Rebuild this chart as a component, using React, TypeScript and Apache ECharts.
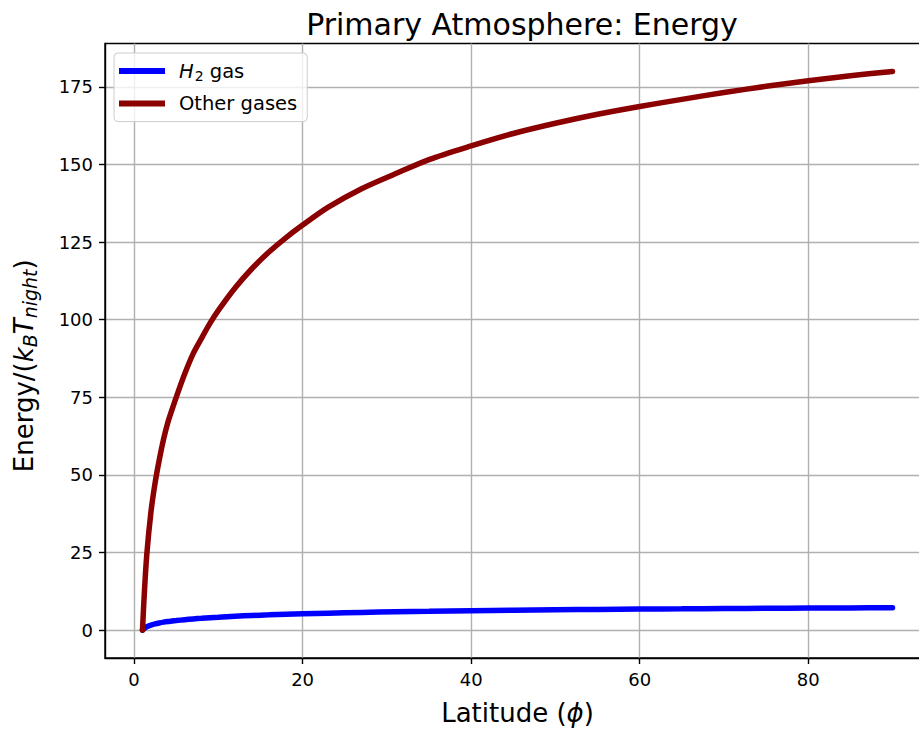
import React, { useEffect, useRef } from "react";
import * as echarts from "echarts";

const latitude = [1, 1.2, 1.5, 2, 2.5, 3, 3.5, 4, 4.5, 5, 6, 7, 8, 9, 10, 12, 14, 16, 18, 20, 23, 27, 31, 35, 40, 45, 50, 55, 60, 65, 70, 75, 80, 85, 90];
const otherGases = [0, 11, 24, 38, 47.5, 55, 61.5, 66.8, 71, 75, 82.5, 89, 94, 98.8, 103, 110.3, 116.5, 121.8, 126.4, 130.5, 136.2, 142.2, 147, 151.6, 156, 160, 163.3, 166.2, 168.7, 171, 173.2, 175.2, 177, 178.6, 180];
const h2Gas = [0, 0.5, 1.05, 1.6, 2.0, 2.3, 2.55, 2.75, 2.9, 3.05, 3.35, 3.6, 3.8, 4.0, 4.15, 4.45, 4.7, 4.9, 5.1, 5.25, 5.45, 5.7, 5.9, 6.05, 6.25, 6.4, 6.55, 6.65, 6.75, 6.85, 6.95, 7.0, 7.1, 7.15, 7.2];
const xTicks = [0, 20, 40, 60, 80];
const yTicks = [0, 25, 50, 75, 100, 125, 150, 175];

const FONT = "DejaVu Sans";

export default function App() {
  const ref = useRef<HTMLDivElement>(null);
  useEffect(() => {
    if (!ref.current) return;
    const chart = echarts.init(ref.current, undefined, { renderer: "svg" });
    const xs = latitude;
    const allY = [...otherGases, ...h2Gas];
    const xSpan = xs[xs.length - 1] - xs[0];
    const yMinD = Math.min(...allY);
    const yMaxD = Math.max(...allY);
    const ySpan = yMaxD - yMinD;
    const pair = (ys: number[]) => xs.map((x, i) => [x, ys[i]]);
    chart.setOption({
      animation: false,
      backgroundColor: "#ffffff",
      title: {
        text: "Primary Atmosphere: Energy",
        left: 517,
        top: 4,
        textAlign: "center",
        textStyle: { fontFamily: FONT, fontSize: 30, fontWeight: "normal", color: "#000" },
      },
      legend: {
        orient: "vertical",
        left: 114,
        top: 53,
        padding: [7, 10, 7, 5],
        itemGap: 9.6,
        itemWidth: 46,
        itemHeight: 6,
        icon: "rect",
        borderColor: "#cccccc",
        borderWidth: 1,
        borderRadius: 4,
        backgroundColor: "rgba(255,255,255,0.8)",
        data: [{ name: "H2 gas" }, { name: "Other gases" }],
        formatter: (name: string) => (name === "H2 gas" ? "{it|H}{sub|2} gas" : name),
        textStyle: {
          fontFamily: FONT,
          fontSize: 19.5,
          color: "#000",
          lineHeight: 22,
          padding: [0, 0, 0, 9],
          rich: {
            it: { fontFamily: FONT, fontSize: 19.5, fontStyle: "italic", color: "#000" },
            sub: { fontFamily: FONT, fontSize: 14, color: "#000", padding: [10, 0, 0, 1] },
          },
        },
      },
      grid: {
        left: 105,
        top: 43.5,
        width: 825,
        height: 614.5,
        outerBoundsMode: "none",
        containLabel: false,
        show: true,
        borderColor: "#000",
        borderWidth: 1.4,
        backgroundColor: "transparent",
      },
      xAxis: {
        type: "value",
        min: xs[0] - 0.05 * xSpan,
        max: xs[xs.length - 1] + 0.05 * xSpan,
        name: "Latitude ({ph|ϕ})",
        nameLocation: "middle",
        nameGap: 42,
        nameTextStyle: {
          fontFamily: FONT,
          fontSize: 26,
          color: "#000",
          rich: { ph: { fontFamily: FONT, fontSize: 26, fontStyle: "italic", color: "#000" } },
        },
        axisLine: { show: true, onZero: false, lineStyle: { color: "#000", width: 1.4 } },
        axisTick: { show: true, inside: false, length: 6, customValues: xTicks, lineStyle: { color: "#000", width: 1.4 } },
        axisLabel: { customValues: xTicks, margin: 12, fontFamily: FONT, fontSize: 18, color: "#000" },
        splitLine: { show: true, customValues: xTicks, lineStyle: { color: "#b0b0b0", width: 1.4 } },
      },
      yAxis: {
        type: "value",
        min: yMinD - 0.05 * ySpan,
        max: yMaxD + 0.05 * ySpan,
        name: "Energy/({it|k}{sub|B}{it|T}{sub|night})",
        nameLocation: "middle",
        nameRotate: 90,
        nameGap: 66,
        nameTextStyle: {
          fontFamily: FONT,
          fontSize: 26,
          color: "#000",
          padding: [0, 30, 0, 0],
          rich: {
            it: { fontFamily: FONT, fontSize: 26, fontStyle: "italic", color: "#000" },
            sub: { fontFamily: FONT, fontSize: 19, fontStyle: "italic", color: "#000", padding: [12, 0, 0, 0] },
          },
        },
        axisLine: { show: true, onZero: false, lineStyle: { color: "#000", width: 1.4 } },
        axisTick: { show: true, inside: false, length: 6, customValues: yTicks, lineStyle: { color: "#000", width: 1.4 } },
        axisLabel: { customValues: yTicks, margin: 12, fontFamily: FONT, fontSize: 18, color: "#000" },
        splitLine: { show: true, customValues: yTicks, lineStyle: { color: "#b0b0b0", width: 1.4 } },
      },
      series: [
        {
          name: "H2 gas",
          type: "line",
          data: pair(h2Gas),
          showSymbol: false,
          smooth: 0.3,
          lineStyle: { color: "#0000ff", width: 5.5, cap: "round" },
          itemStyle: { color: "#0000ff" },
        },
        {
          name: "Other gases",
          type: "line",
          data: pair(otherGases),
          showSymbol: false,
          smooth: 0.3,
          lineStyle: { color: "#8b0000", width: 5.5, cap: "round" },
          itemStyle: { color: "#8b0000" },
        },
      ],
    });
    return () => chart.dispose();
  }, []);
  return <div ref={ref} style={{ position: "absolute", left: 0, top: 0, width: 919, height: 730 }} />;
}
